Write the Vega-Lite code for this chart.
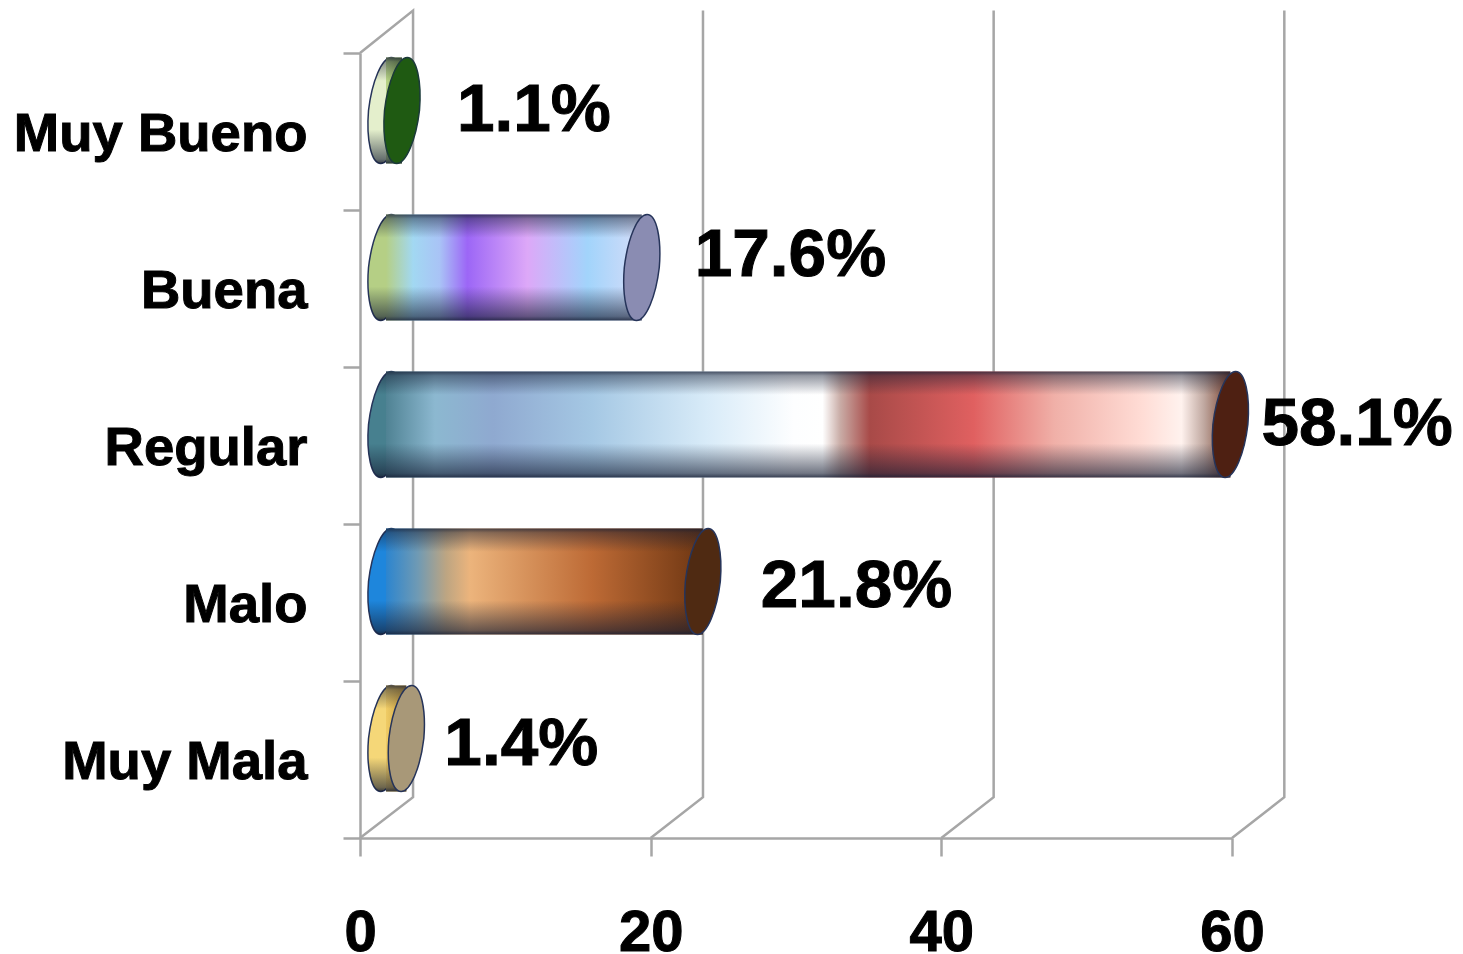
{"$schema":"https://vega.github.io/schema/vega-lite/v6.json","autosize":{"type":"none"},"padding":{"left":360,"top":53,"right":231,"bottom":116},"width":872,"height":785,"background":"white","config":{"view":{"stroke":null}},"resolve":{"scale":{"y":"independent"}},"layer":[{"data":{"values":[{"linea":"a","ex":0,"ey":0,"o":1},{"linea":"a","ex":3.65,"ey":0.26,"o":2},{"linea":"a","ex":3.65,"ey":5.27,"o":3},{"linea":"a","ex":0,"ey":5,"o":4},{"linea":"b","ex":20,"ey":0,"o":1},{"linea":"b","ex":23.6,"ey":0.26,"o":2},{"linea":"b","ex":23.6,"ey":5.27,"o":3},{"linea":"c","ex":40,"ey":0,"o":1},{"linea":"c","ex":43.6,"ey":0.26,"o":2},{"linea":"c","ex":43.6,"ey":5.27,"o":3},{"linea":"d","ex":60,"ey":0,"o":1},{"linea":"d","ex":63.6,"ey":0.26,"o":2},{"linea":"d","ex":63.6,"ey":5.27,"o":3}]},"mark":{"type":"line","color":"#a6a6a6","strokeWidth":2.5,"clip":false},"encoding":{"x":{"field":"ex","type":"quantitative"},"y":{"field":"ey","type":"quantitative","scale":{"domain":[0,5]},"axis":null},"detail":{"field":"linea"},"order":{"field":"o"}}},{"data":{"values":[{"categoria":"Muy Bueno","valor":1.1,"etiqueta":"1.1%"},{"categoria":"Buena","valor":17.6,"etiqueta":"17.6%"},{"categoria":"Regular","valor":58.1,"etiqueta":"58.1%"},{"categoria":"Malo","valor":21.8,"etiqueta":"21.8%"},{"categoria":"Muy Mala","valor":1.4,"etiqueta":"1.4%"}]},"encoding":{"x":{"field":"valor","type":"quantitative","stack":null,"scale":{"domain":[0,60],"nice":false},"axis":{"values":[0,20,40,60],"grid":false,"title":null,"domainColor":"#a6a6a6","domainWidth":2.5,"tickColor":"#a6a6a6","tickWidth":2.5,"tickSize":18,"labelFont":"Liberation Sans","labelFontSize":58,"labelFontWeight":"bold","labelColor":"#000000","labelPadding":48,"labelFlush":false,"labelOverlap":false,"encoding":{"labels":{"stroke":{"value":"#000000"},"strokeWidth":{"value":1}}}}},"y":{"field":"categoria","type":"nominal","scale":{"domain":["Muy Bueno","Buena","Regular","Malo","Muy Mala"],"paddingInner":0,"paddingOuter":0},"axis":{"title":null,"grid":false,"domainColor":"#a6a6a6","domainWidth":2.5,"tickColor":"#a6a6a6","tickWidth":2.5,"tickSize":17,"tickBand":"extent","labelFont":"Liberation Sans","labelFontSize":54.5,"labelFontWeight":"bold","labelColor":"#000000","labelPadding":36,"labelLimit":400,"labelOffset":3,"encoding":{"labels":{"stroke":{"value":"#000000"},"strokeWidth":{"value":1}}}}}},"layer":[{"transform":[{"filter":"datum.categoria=='Muy Bueno'"}],"mark":{"type":"point","shape":"M0.1,-1 C0.277,-1 0.375,-0.552 0.33,0 C0.265,0.552 0.077,1 -0.1,1 C-0.277,1 -0.375,0.552 -0.33,0 C-0.265,-0.552 -0.077,-1 0.1,-1 Z","size":11236,"filled":true,"fill":"#e4efcc","stroke":"#26345a","strokeWidth":1.5,"opacity":1,"xOffset":26,"yOffset":-21},"encoding":{"x":{"datum":0}}},{"transform":[{"filter":"datum.categoria=='Buena'"}],"mark":{"type":"point","shape":"M0.1,-1 C0.277,-1 0.375,-0.552 0.33,0 C0.265,0.552 0.077,1 -0.1,1 C-0.277,1 -0.375,0.552 -0.33,0 C-0.265,-0.552 -0.077,-1 0.1,-1 Z","size":11236,"filled":true,"fill":"#b5cf85","stroke":"#26345a","strokeWidth":1.5,"opacity":1,"xOffset":26,"yOffset":-21},"encoding":{"x":{"datum":0}}},{"transform":[{"filter":"datum.categoria=='Regular'"}],"mark":{"type":"point","shape":"M0.1,-1 C0.277,-1 0.375,-0.552 0.33,0 C0.265,0.552 0.077,1 -0.1,1 C-0.277,1 -0.375,0.552 -0.33,0 C-0.265,-0.552 -0.077,-1 0.1,-1 Z","size":11236,"filled":true,"fill":"#47808f","stroke":"#26345a","strokeWidth":1.5,"opacity":1,"xOffset":26,"yOffset":-21},"encoding":{"x":{"datum":0}}},{"transform":[{"filter":"datum.categoria=='Malo'"}],"mark":{"type":"point","shape":"M0.1,-1 C0.277,-1 0.375,-0.552 0.33,0 C0.265,0.552 0.077,1 -0.1,1 C-0.277,1 -0.375,0.552 -0.33,0 C-0.265,-0.552 -0.077,-1 0.1,-1 Z","size":11236,"filled":true,"fill":"#1e86dc","stroke":"#26345a","strokeWidth":1.5,"opacity":1,"xOffset":26,"yOffset":-21},"encoding":{"x":{"datum":0}}},{"transform":[{"filter":"datum.categoria=='Muy Mala'"}],"mark":{"type":"point","shape":"M0.1,-1 C0.277,-1 0.375,-0.552 0.33,0 C0.265,0.552 0.077,1 -0.1,1 C-0.277,1 -0.375,0.552 -0.33,0 C-0.265,-0.552 -0.077,-1 0.1,-1 Z","size":11236,"filled":true,"fill":"#f5d778","stroke":"#26345a","strokeWidth":1.5,"opacity":1,"xOffset":26,"yOffset":-21},"encoding":{"x":{"datum":0}}},{"mark":{"type":"point","shape":"M0.1,-1 C0.277,-1 0.375,-0.552 0.33,0 C0.265,0.552 0.077,1 -0.1,1 C-0.277,1 -0.375,0.552 -0.33,0 C-0.265,-0.552 -0.077,-1 0.1,-1 Z","size":11236,"filled":true,"opacity":1,"xOffset":26,"yOffset":-21,"fill":{"gradient":"linear","x1":0,"y1":0,"x2":0,"y2":1,"stops":[{"offset":0,"color":"rgba(20,28,50,0.75)"},{"offset":0.04,"color":"rgba(20,28,50,0.45)"},{"offset":0.22,"color":"rgba(20,28,50,0)"},{"offset":0.68,"color":"rgba(20,28,50,0)"},{"offset":0.96,"color":"rgba(20,28,50,0.6)"},{"offset":1,"color":"rgba(20,28,50,0.85)"}]}},"encoding":{"x":{"datum":0}}},{"transform":[{"filter":"datum.categoria=='Muy Bueno'"}],"mark":{"type":"bar","size":106,"xOffset":26,"x2Offset":26,"yOffset":-21,"fill":{"gradient":"linear","x1":0,"y1":0,"x2":1,"y2":0,"stops":[{"offset":0,"color":"#b8d488"},{"offset":1,"color":"#86a850"}]}},"encoding":{"x2":{"datum":0}}},{"transform":[{"filter":"datum.categoria=='Buena'"}],"mark":{"type":"bar","size":106,"xOffset":26,"x2Offset":26,"yOffset":-21,"fill":{"gradient":"linear","x1":0,"y1":0,"x2":1,"y2":0,"stops":[{"offset":0,"color":"#b5cf85"},{"offset":0.106,"color":"#a2d8f2"},{"offset":0.21,"color":"#a9c3f6"},{"offset":0.318,"color":"#9c66f6"},{"offset":0.553,"color":"#dda8f8"},{"offset":0.788,"color":"#a2d4fb"},{"offset":1,"color":"#d5dcf8"}]}},"encoding":{"x2":{"datum":0}}},{"transform":[{"filter":"datum.categoria=='Regular'"}],"mark":{"type":"bar","size":106,"xOffset":26,"x2Offset":26,"yOffset":-21,"fill":{"gradient":"linear","x1":0,"y1":0,"x2":1,"y2":0,"stops":[{"offset":0,"color":"#4f8293"},{"offset":0.058,"color":"#8cb8d0"},{"offset":0.127,"color":"#8fa9d0"},{"offset":0.244,"color":"#a5c8e4"},{"offset":0.38,"color":"#d8ebf8"},{"offset":0.483,"color":"#fdfeff"},{"offset":0.517,"color":"#ffffff"},{"offset":0.538,"color":"#c9aca6"},{"offset":0.573,"color":"#a84a48"},{"offset":0.696,"color":"#e06060"},{"offset":0.792,"color":"#f0b0a8"},{"offset":0.895,"color":"#ffdcd5"},{"offset":0.942,"color":"#fff2ee"},{"offset":0.969,"color":"#bfa79f"},{"offset":1,"color":"#7a3f2a"}]}},"encoding":{"x2":{"datum":0}}},{"transform":[{"filter":"datum.categoria=='Malo'"}],"mark":{"type":"bar","size":106,"xOffset":26,"x2Offset":26,"yOffset":-21,"fill":{"gradient":"linear","x1":0,"y1":0,"x2":1,"y2":0,"stops":[{"offset":0,"color":"#2c85cf"},{"offset":0.1,"color":"#6f9ab4"},{"offset":0.19,"color":"#bda582"},{"offset":0.265,"color":"#ecb47c"},{"offset":0.65,"color":"#bd6a35"},{"offset":1,"color":"#6e3612"}]}},"encoding":{"x2":{"datum":0}}},{"transform":[{"filter":"datum.categoria=='Muy Mala'"}],"mark":{"type":"bar","size":106,"xOffset":26,"x2Offset":26,"yOffset":-21,"fill":{"gradient":"linear","x1":0,"y1":0,"x2":1,"y2":0,"stops":[{"offset":0,"color":"#f0cc66"},{"offset":1,"color":"#c49a3a"}]}},"encoding":{"x2":{"datum":0}}},{"mark":{"type":"bar","size":106,"xOffset":26,"x2Offset":26,"yOffset":-21,"fill":{"gradient":"linear","x1":0,"y1":0,"x2":0,"y2":1,"stops":[{"offset":0,"color":"rgba(20,28,50,0.75)"},{"offset":0.04,"color":"rgba(20,28,50,0.45)"},{"offset":0.22,"color":"rgba(20,28,50,0)"},{"offset":0.68,"color":"rgba(20,28,50,0)"},{"offset":0.96,"color":"rgba(20,28,50,0.6)"},{"offset":1,"color":"rgba(20,28,50,0.85)"}]}},"encoding":{"x2":{"datum":0}}},{"transform":[{"filter":"datum.categoria=='Muy Bueno'"}],"mark":{"type":"point","shape":"M0.1,-1 C0.277,-1 0.375,-0.552 0.33,0 C0.265,0.552 0.077,1 -0.1,1 C-0.277,1 -0.375,0.552 -0.33,0 C-0.265,-0.552 -0.077,-1 0.1,-1 Z","size":11236,"filled":true,"fill":"#1f5a12","stroke":"#1b3a3a","strokeWidth":1.5,"opacity":1,"xOffset":26,"yOffset":-21}},{"transform":[{"filter":"datum.categoria=='Buena'"}],"mark":{"type":"point","shape":"M0.1,-1 C0.277,-1 0.375,-0.552 0.33,0 C0.265,0.552 0.077,1 -0.1,1 C-0.277,1 -0.375,0.552 -0.33,0 C-0.265,-0.552 -0.077,-1 0.1,-1 Z","size":11236,"filled":true,"fill":"#8a8cb2","stroke":"#26345a","strokeWidth":1.5,"opacity":1,"xOffset":26,"yOffset":-21}},{"transform":[{"filter":"datum.categoria=='Regular'"}],"mark":{"type":"point","shape":"M0.1,-1 C0.277,-1 0.375,-0.552 0.33,0 C0.265,0.552 0.077,1 -0.1,1 C-0.277,1 -0.375,0.552 -0.33,0 C-0.265,-0.552 -0.077,-1 0.1,-1 Z","size":11236,"filled":true,"fill":"#4e2012","stroke":"#26345a","strokeWidth":1.5,"opacity":1,"xOffset":26,"yOffset":-21}},{"transform":[{"filter":"datum.categoria=='Malo'"}],"mark":{"type":"point","shape":"M0.1,-1 C0.277,-1 0.375,-0.552 0.33,0 C0.265,0.552 0.077,1 -0.1,1 C-0.277,1 -0.375,0.552 -0.33,0 C-0.265,-0.552 -0.077,-1 0.1,-1 Z","size":11236,"filled":true,"fill":"#4f2a12","stroke":"#26345a","strokeWidth":1.5,"opacity":1,"xOffset":26,"yOffset":-21}},{"transform":[{"filter":"datum.categoria=='Muy Mala'"}],"mark":{"type":"point","shape":"M0.1,-1 C0.277,-1 0.375,-0.552 0.33,0 C0.265,0.552 0.077,1 -0.1,1 C-0.277,1 -0.375,0.552 -0.33,0 C-0.265,-0.552 -0.077,-1 0.1,-1 Z","size":11236,"filled":true,"fill":"#a89878","stroke":"#26345a","strokeWidth":1.5,"opacity":1,"xOffset":26,"yOffset":-21}},{"transform":[{"filter":"datum.categoria=='Muy Bueno'"}],"mark":{"type":"text","font":"Liberation Sans","fontWeight":"bold","fontSize":67.5,"align":"left","baseline":"middle","color":"#000000","stroke":"#000000","strokeWidth":1,"dx":81,"dy":-21},"encoding":{"text":{"field":"etiqueta"}}},{"transform":[{"filter":"datum.categoria=='Buena'"}],"mark":{"type":"text","font":"Liberation Sans","fontWeight":"bold","fontSize":67.5,"align":"left","baseline":"middle","color":"#000000","stroke":"#000000","strokeWidth":1,"dx":79,"dy":-33},"encoding":{"text":{"field":"etiqueta"}}},{"transform":[{"filter":"datum.categoria=='Regular'"}],"mark":{"type":"text","font":"Liberation Sans","fontWeight":"bold","fontSize":67.5,"align":"left","baseline":"middle","color":"#000000","stroke":"#000000","strokeWidth":1,"dx":57,"dy":-21},"encoding":{"text":{"field":"etiqueta"}}},{"transform":[{"filter":"datum.categoria=='Malo'"}],"mark":{"type":"text","font":"Liberation Sans","fontWeight":"bold","fontSize":67.5,"align":"left","baseline":"middle","color":"#000000","stroke":"#000000","strokeWidth":1,"dx":84,"dy":-16},"encoding":{"text":{"field":"etiqueta"}}},{"transform":[{"filter":"datum.categoria=='Muy Mala'"}],"mark":{"type":"text","font":"Liberation Sans","fontWeight":"bold","fontSize":67.5,"align":"left","baseline":"middle","color":"#000000","stroke":"#000000","strokeWidth":1,"dx":64,"dy":-15},"encoding":{"text":{"field":"etiqueta"}}}]}]}
